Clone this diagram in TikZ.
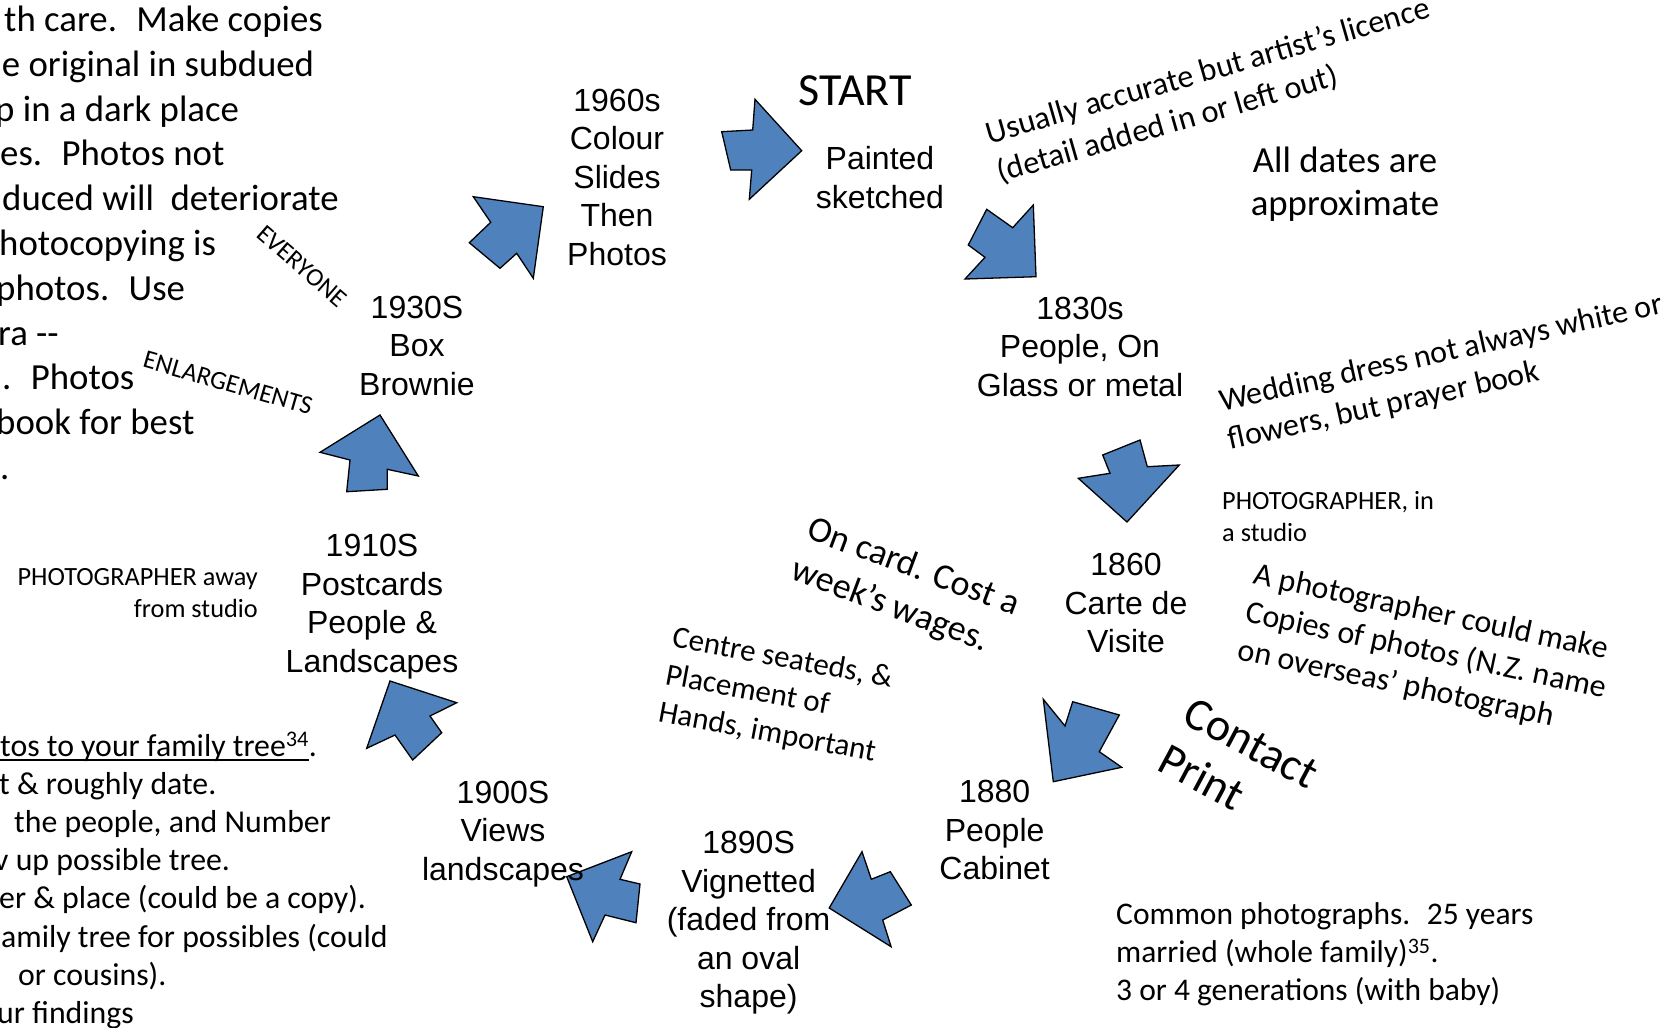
\documentclass[tikz,border=0pt]{standalone}
\usepackage{fontspec}
\setmainfont{Carlito}
\newfontfamily\arialfont{Liberation Sans}
\newcommand{\txtsize}[2]{\fontsize{#1}{#2}\selectfont}
\newcommand{\famline}[1]{\setbox0\hbox{#1}\rlap{\rule[-4.5pt]{\wd0}{1.4pt}}\box0}
\definecolor{arrowblue}{RGB}{79,129,189}
\tikzset{
    blockarrow/.style={fill=arrowblue, draw=black, line width=1.3pt, line join=miter},
    datelabel/.style={font=\arialfont\txtsize{32}{38.5}, align=center, anchor=north, inner sep=0pt},
    note/.style={align=left, anchor=north west, inner sep=0pt},
}
\begin{document}
\begin{tikzpicture}[x=1pt, y=-1pt]
        \useasboundingbox (0,0) rectangle (1676,1028);
        \clip (0,0) rectangle (1676,1028);

        \draw[blockarrow] (380,415) -- (418.3,476) -- (387.3,469.3) -- (387.3,489.3) -- (346.7,491.7) -- (350,460) -- (320,452.3) -- cycle;
        \draw[blockarrow] (543.3,206.7) -- (533.3,278.3) -- (516.7,253.3) -- (500,268.3) -- (469.3,242.7) -- (490.7,222.3) -- (473.3,196.7) -- cycle;
        \draw[blockarrow] (801.7,150.7) -- (749.3,199.3) -- (751.7,170) -- (730.7,170) -- (721.7,131.7) -- (752.7,130) -- (755,99.3) -- cycle;
        \draw[blockarrow] (1036,276.7) -- (965,279) -- (985,257.3) -- (968.3,245) -- (986.7,209.3) -- (1012.7,227.7) -- (1033.3,205) -- cycle;
        \draw[blockarrow] (1127,522) -- (1078.3,478.3) -- (1110,473.3) -- (1102.7,455) -- (1140,440) -- (1147.3,466.7) -- (1179.3,465) -- cycle;
        \draw[blockarrow] (1053.3,781.7) -- (1043.3,699.3) -- (1065,726) -- (1072.7,701.7) -- (1119.3,715) -- (1099.3,751.7) -- (1121.7,767.3) -- cycle;
        \draw[blockarrow] (829.2,908) -- (862,851.7) -- (871.3,879.3) -- (890.3,871.7) -- (911.3,905) -- (882.7,920) -- (891.1,946.7) -- cycle;
        \draw[blockarrow] (566.7,876.7) -- (631.7,851.7) -- (620,879.3) -- (640,884) -- (636,922.7) -- (605,915) -- (592.7,941.7) -- cycle;
        \draw[blockarrow] (390,681) -- (456.7,702.7) -- (430,716) -- (441.7,732.7) -- (412.7,760) -- (395,735) -- (366.7,748.3) -- cycle;

        \foreach \dx/\txt[count=\i] in {4/th care.~ Make copies, 1.7/e original in subdued, -5/p in a dark place, 0/es.~ Photos not, 2/duced will~ deteriorate, -1/hotocopying is, -4/photos.~ Use, -2/ra -{}-, 2/.~ Photos, -4/book for best, 0/.} {
            \node[anchor=base west, inner sep=0pt, font=\txtsize{36.8}{44.8}] (care\i) at (\dx, {31.5+44.8*(\i-1)}) {\txt};
        }
        \foreach \dx/\txt[count=\i] in {0/{\famline{tos to your family tree\textsuperscript{34}}.}, -1/t \& roughly date., 14/{the people, and Number}, -6/v up possible tree., -1/er \& place (could be a copy)., 1/amily tree for possibles (could, 18/or cousins)., -3/ur findings} {
            \node[anchor=base west, inner sep=0pt, font=\txtsize{31.8}{38.2}] (tree\i) at (\dx, {756+38.2*(\i-1)}) {\txt};
        }

        \node[datelabel] (d1960) at (617,88.5) {1960s\\Colour\\Slides\\Then\\Photos};
        \node[datelabel] (painted) at (880,146.5) {Painted\\sketched};
        \node[datelabel] (d1830) at (1080,296.5) {1830s\\People, On\\Glass or metal};
        \node[datelabel] (d1860) at (1126,553) {1860\\Carte de\\Visite};
        \node[datelabel] (d1880) at (994.6,780) {1880\\People\\Cabinet};
        \node[datelabel] (d1890) at (748.6,831.3) {1890S\\Vignetted\\(faded from\\an oval\\shape)};
        \node[datelabel] (d1900) at (503,780.5) {1900S\\Views\\landscapes};
        \node[datelabel] (d1910) at (372,534) {1910S\\Postcards\\People \&\\Landscapes};
        \node[datelabel] (d1930) at (417,295.5) {1930S\\Box\\Brownie};

        \node[inner sep=0pt, font=\txtsize{46}{56}] (start) at (855,91) {START};
        \node[note, anchor=north, align=center, font=\txtsize{36.8}{43}] (approx) at (1345,146.5) {All dates are\\approximate};
        \node[note, rotate=16, font=\txtsize{32.3}{40}] (licence) at (983,122) {Usually accurate but artist’s licence\\(detail added in or left out)};
        \node[note, rotate=12.5, font=\txtsize{32}{39}] (wedding) at (1217,389.5) {Wedding dress not always white or\\flowers, but prayer book};
        \node[note, font=\txtsize{26.3}{32.2}] (studio) at (1222,491) {PHOTOGRAPHER, in\\a studio};
        \node[note, rotate=-12, font=\txtsize{32}{38.5}] (copies) at (1257,562) {A photographer could make\\Copies of photos (N.Z. name\\on overseas’ photograph};
        \node[note, rotate=-20.5, font=\txtsize{36}{44}] (card) at (814,514) {On card. Cost a\\week’s wages.};
        \node[note, rotate=-10.5, font=\txtsize{31}{37.8}] (hands) at (675,625.5) {Centre seateds, \&\\Placement of\\Hands, important};
        \node[note, rotate=-28, font=\txtsize{46}{54}] (contact) at (1194.3,695.4) {Contact\\Print};
        \node[note, font=\txtsize{31.5}{38.3}] (common) at (1116,902) {Common photographs.~ 25 years\\married (whole family)\textsuperscript{35}.\\3 or 4 generations (with baby)};
        \node[note, anchor=north east, align=right, font=\txtsize{26.3}{32}] (away) at (258,568) {PHOTOGRAPHER away\\from studio};
        \node[rotate=-41, inner sep=0pt, font=\txtsize{25.5}{30}] (everyone) at (302,266) {EVERYONE};
        \node[rotate=-16, inner sep=0pt, font=\txtsize{26}{31}] (enlarge) at (228,383) {ENLARGEMENTS};
    \end{tikzpicture}
\end{document}
